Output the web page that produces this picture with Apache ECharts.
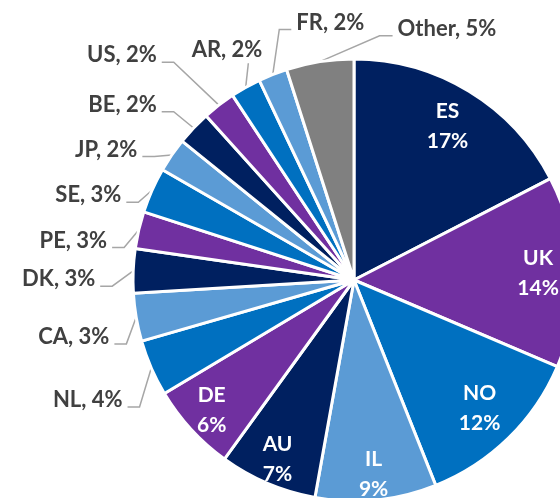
<!DOCTYPE html>
<html>
<head>
<meta charset="utf-8">
<script src="https://cdn.jsdelivr.net/npm/echarts@6/dist/echarts.min.js"></script>
<style>
  html, body { margin: 0; padding: 0; background: #fff; }
  #main { width: 560px; height: 498px; }
</style>
</head>
<body>
<div id="main"></div>
<script>
// share of total, clockwise from 12 o'clock
const countries = ['ES', 'UK', 'NO', 'IL', 'AU', 'DE', 'NL', 'CA', 'DK', 'PE', 'SE', 'JP', 'BE', 'US', 'AR', 'FR', 'Other'];
const shares = [17.3, 13.9, 12.49, 8.8, 7.1, 6.4, 4.1, 3.49, 3.2, 2.7, 3.3, 2.49, 2.49, 2.4, 2.2, 2.1, 4.9];

const navy = '#002060', purple = '#7030A0', blue = '#0070C0', light = '#5B9BD5', grey = '#808080';
const palette = [navy, purple, blue, light];

// big slices carry their label inside, at this fraction of the radius
const insideAt = { ES: 0.8, UK: 0.82, NO: 0.8, IL: 0.87, AU: 0.87, DE: 0.86 };

// hand placement of the outside labels, like the original:
// [elbow dx, elbow dy, side (-1 left / 1 right), tail length, text dx, text dy]
const labelNudge = {
    NL: [2, 33, -1, 12, 0, 0],
    CA: [5, 24, -1, 12, 0, 0],
    DK: [-6, 16, -1, 12, 0, 0],
    PE: [0, 21, -1, 12, 0, 0],
    SE: [0, 18, -1, 12, 0, 0],
    JP: [-5, 10, -1, 12, 0, 0],
    BE: [-9, -6, -1, 12, 0, 0],
    US: [-36, -31, -1, 12, 0, 0],
    AR: [10, -11, -1, 0, 19, -6],
    FR: [12, -31, 1, 12, 0, 0],
    Other: [62, -11, 1, 13, 0, 0]
};

const font = 'Lato';
const R = 221;
const CENTER = [354, 280];

const pieData = countries.map((name, i) => ({
    name: name,
    value: shares[i],
    itemStyle: { color: name === 'Other' ? grey : palette[i % 4] },
    label: { show: !(name in insideAt) },
    labelLine: { show: !(name in insideAt) }
}));

// transparent ring whose mid radius seats one inside label
function labelRing(who) {
    const mid = insideAt[who];
    return {
        type: 'pie',
        center: CENTER,
        radius: [R * (2 * mid - 1), R],
        startAngle: 90,
        clockwise: true,
        silent: true,
        avoidLabelOverlap: false,
        itemStyle: { color: 'rgba(0,0,0,0)', borderWidth: 0 },
        label: {
            position: 'inside',
            fontFamily: font,
            fontWeight: 'bold',
            fontSize: 21,
            lineHeight: 30,
            color: '#fff',
            formatter: p => p.name + '\n' + Math.round(p.value) + '%'
        },
        labelLine: { show: false },
        emphasis: { disabled: true },
        data: countries.map((name, i) => ({
            name: name,
            value: shares[i],
            label: { show: name === who }
        }))
    };
}

const myChart = echarts.init(document.getElementById('main'));
myChart.setOption({
    animation: false,
    series: [
        {
            type: 'pie',
            center: CENTER,
            radius: R,
            startAngle: 90,
            clockwise: true,
            avoidLabelOverlap: false,
            itemStyle: { borderColor: '#fff', borderWidth: 3 },
            label: {
                position: 'outside',
                fontFamily: font,
                fontWeight: 'bold',
                fontSize: 22,
                color: '#404040',
                formatter: p => p.name + ', ' + Math.round(p.value) + '%'
            },
            labelLine: {
                length: 15,
                length2: 12,
                lineStyle: { color: '#A6A6A6', width: 1.5 }
            },
            labelLayout: function (params) {
                const name = countries[params.dataIndex];
                const n = labelNudge[name];
                if (!n || !params.labelLinePoints) return {};
                const p0 = params.labelLinePoints[0];
                const p1 = params.labelLinePoints[1];
                const elbow = [p1[0] + n[0], p1[1] + n[1]];
                const end = [elbow[0] + n[2] * n[3], elbow[1]];
                return {
                    x: end[0] + n[2] * 5 + n[4],
                    y: end[1] - 7 + n[5],
                    align: n[2] < 0 ? 'right' : 'left',
                    verticalAlign: 'middle',
                    labelLinePoints: [p0, elbow, end]
                };
            },
            emphasis: { disabled: true },
            data: pieData
        }
    ].concat(Object.keys(insideAt).map(labelRing))
});
</script>
</body>
</html>
